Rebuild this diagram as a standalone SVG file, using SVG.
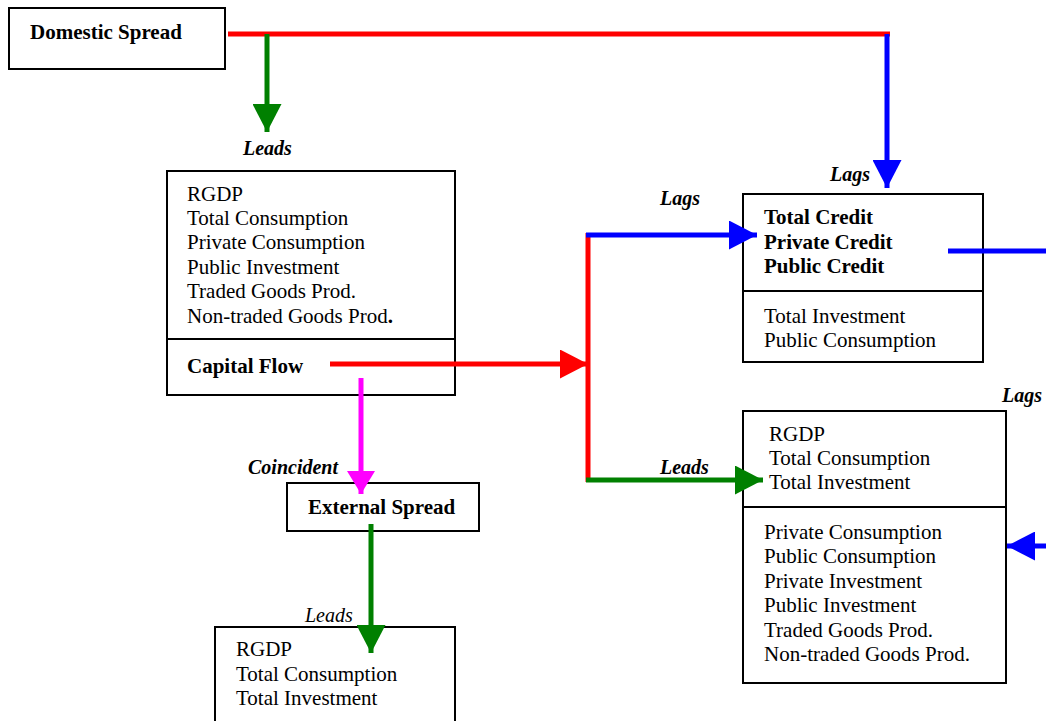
<svg xmlns="http://www.w3.org/2000/svg" width="1046" height="721" viewBox="0 0 1046 721">
  <style>
    .box { fill: #ffffff; stroke: #000000; stroke-width: 2; }
    .div { stroke: #000000; stroke-width: 2; }
    text { font-family: "Liberation Serif", "Times New Roman", serif; font-size: 21px; fill: #000000; }
    .b { font-weight: bold; }
    .lbl { font-weight: bold; font-style: italic; font-size: 20px; }
    .it { font-style: italic; font-size: 20px; }
    .ln { fill: none; stroke-width: 5; }
  </style>
  <defs>
    <marker id="ahRed" viewBox="0 0 28 29" markerWidth="28" markerHeight="29" refX="28" refY="14.5" orient="auto" markerUnits="userSpaceOnUse">
      <path d="M0,0 L28,14.5 L0,29 Z" fill="#ff0000"/>
    </marker>
    <marker id="ahBlue" viewBox="0 0 28 29" markerWidth="28" markerHeight="29" refX="28" refY="14.5" orient="auto" markerUnits="userSpaceOnUse">
      <path d="M0,0 L28,14.5 L0,29 Z" fill="#0000ff"/>
    </marker>
    <marker id="ahGreen" viewBox="0 0 28 29" markerWidth="28" markerHeight="29" refX="28" refY="14.5" orient="auto" markerUnits="userSpaceOnUse">
      <path d="M0,0 L28,14.5 L0,29 Z" fill="#008000"/>
    </marker>
    <marker id="ahMagenta" viewBox="0 0 23 28" markerWidth="23" markerHeight="28" refX="23" refY="14" orient="auto" markerUnits="userSpaceOnUse">
      <path d="M0,0 L23,14 L0,28 Z" fill="#ff00ff"/>
    </marker>
  </defs>

  <!-- nodes -->
  <g id="domestic-spread">
    <rect class="box" x="9" y="8" width="216" height="61"/>
    <text class="b" x="30" y="39">Domestic Spread</text>
  </g>

  <g id="real-activity">
    <rect class="box" x="167" y="171" width="288" height="224"/>
    <line class="div" x1="167" y1="339" x2="455" y2="339"/>
    <text x="187" y="201">RGDP</text>
    <text x="187" y="225">Total Consumption</text>
    <text x="187" y="249">Private Consumption</text>
    <text x="187" y="274">Public Investment</text>
    <text x="187" y="298">Traded Goods Prod.</text>
    <text x="187" y="323">Non-traded Goods Prod<tspan class="b">.</tspan></text>
    <text class="b" x="187" y="373">Capital Flow</text>
  </g>

  <g id="credit">
    <rect class="box" x="743" y="194" width="240" height="168"/>
    <line class="div" x1="743" y1="291" x2="983" y2="291"/>
    <text class="b" x="764" y="224">Total Credit</text>
    <text class="b" x="764" y="249">Private Credit</text>
    <text class="b" x="764" y="273">Public Credit</text>
    <text x="764" y="323">Total Investment</text>
    <text x="764" y="347">Public Consumption</text>
  </g>

  <g id="aggregates-right">
    <rect class="box" x="743" y="411" width="263" height="272"/>
    <line class="div" x1="743" y1="507" x2="1006" y2="507"/>
    <text x="769" y="441">RGDP</text>
    <text x="769" y="465">Total Consumption</text>
    <text x="769" y="489">Total Investment</text>
    <text x="764" y="539">Private Consumption</text>
    <text x="764" y="563">Public Consumption</text>
    <text x="764" y="588">Private Investment</text>
    <text x="764" y="612">Public Investment</text>
    <text x="764" y="637">Traded Goods Prod.</text>
    <text x="764" y="661">Non-traded Goods Prod.</text>
  </g>

  <g id="external-spread">
    <rect class="box" x="287" y="483" width="192" height="48"/>
    <text class="b" x="308" y="514">External Spread</text>
  </g>

  <g id="aggregates-bottom">
    <rect class="box" x="215" y="627" width="240" height="110"/>
    <text x="236" y="656">RGDP</text>
    <text x="236" y="681">Total Consumption</text>
    <text x="236" y="705">Total Investment</text>
  </g>

  <!-- connectors -->
  <g id="connectors">
    <line class="ln" x1="228" y1="34" x2="890" y2="34" stroke="#ff0000"/>
    <line class="ln" x1="267" y1="34" x2="267" y2="132" stroke="#008000" marker-end="url(#ahGreen)"/>
    <line class="ln" x1="887" y1="34" x2="887" y2="188" stroke="#0000ff" marker-end="url(#ahBlue)"/>

    <line class="ln" x1="330" y1="364" x2="588" y2="364" stroke="#ff0000" marker-end="url(#ahRed)"/>
    <line class="ln" x1="588" y1="233" x2="588" y2="482" stroke="#ff0000"/>
    <line class="ln" x1="586" y1="235" x2="757" y2="235" stroke="#0000ff" marker-end="url(#ahBlue)"/>
    <line class="ln" x1="586" y1="480" x2="763" y2="480" stroke="#008000" marker-end="url(#ahGreen)"/>

    <line class="ln" x1="948" y1="251" x2="1046" y2="251" stroke="#0000ff"/>
    <line class="ln" x1="1046" y1="546" x2="1007" y2="546" stroke="#0000ff" marker-end="url(#ahBlue)"/>

    <line class="ln" x1="361" y1="378" x2="361" y2="494" stroke="#ff00ff" stroke-width="4" marker-end="url(#ahMagenta)"/>
    <line class="ln" x1="371" y1="524" x2="371" y2="653" stroke="#008000" marker-end="url(#ahGreen)"/>

    <!-- connector labels -->
    <text class="lbl" x="243" y="155">Leads</text>
    <text class="lbl" x="830" y="181">Lags</text>
    <text class="lbl" x="660" y="205">Lags</text>
    <text class="lbl" x="660" y="474">Leads</text>
    <text class="lbl" x="1002" y="402">Lags</text>
    <text class="lbl" x="248" y="474">Coincident</text>
    <text class="it" x="305" y="622">Leads</text>
  </g>
</svg>
